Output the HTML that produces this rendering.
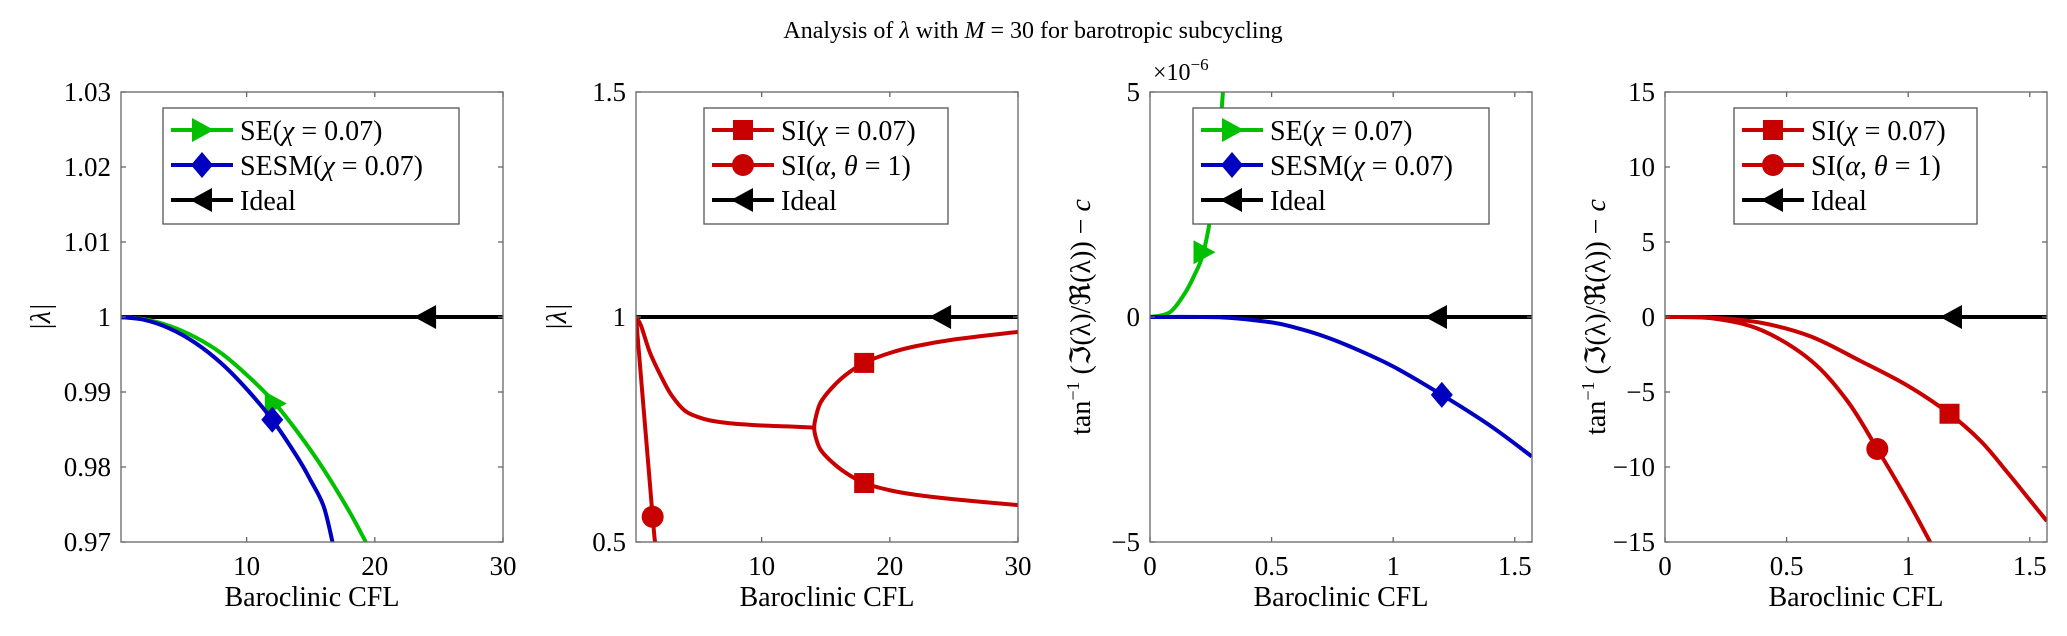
<!DOCTYPE html>
<html><head><meta charset="utf-8"><style>
body{margin:0;background:#fff}
svg{display:block}
text{font-family:"Liberation Serif","DejaVu Serif",serif;fill:#000}
</style></head><body>
<svg id="fig" width="2067" height="636" viewBox="0 0 2067 636" xmlns="http://www.w3.org/2000/svg">
<text x="1033" y="38" font-size="24" text-anchor="middle">Analysis of <tspan font-style="italic">λ</tspan> with <tspan font-style="italic">M</tspan> = 30 for barotropic subcycling</text>
</svg>
<script>
// ---- data ----
const p1SEx=[0,2,4,6,8,10,12,14,16,18,19.3];
const p1SEy=[1,0.9997,0.9988,0.9973,0.9952,0.9923,0.9889,0.9846,0.9797,0.9741,0.970];
const p1SESMx=[0,2,4,6,8,10,12,14,15,16,16.7];
const p1SESMy=[1,0.99962,0.99846,0.99654,0.99386,0.9904,0.9863,0.9812,0.9782,0.9748,0.970];
const p2SIax=[0.2,0.6,1.3,2.3,3,4,5,6,7.5,10,12,13.5,14.1];
const p2SIay=[1.0,0.98,0.92,0.86,0.825,0.792,0.778,0.77,0.764,0.759,0.757,0.755,0.754];
const p2SIbx=[30,25,22,20,18,16.5,15.4,14.6,14.25,14.1,14.25,14.6,15.4,16.5,18,20,22,25,30];
const p2SIby=[0.582,0.595,0.605,0.615,0.631,0.655,0.68,0.705,0.73,0.754,0.78,0.81,0.84,0.87,0.898,0.92,0.935,0.95,0.967];
const p2Cx=[0.2,1.5,1.7];
const p2Cy=[1.0,0.556,0.5];
const p3SEx=[0,0.08,0.14,0.18,0.22,0.26,0.28,0.30,0.31];
const p3SEy=[0,0.1,0.5,0.9,1.44,2.6,3.6,5,5.6];
const p3SESMx=[0,0.3,0.5,0.6,0.7,0.82,1.0,1.2,1.4,1.57];
const p3SESMy=[0,-0.01,-0.12,-0.24,-0.4,-0.65,-1.1,-1.73,-2.42,-3.1];
const p4Sx=[0,0.2,0.4,0.6,0.8,1.0,1.17,1.3,1.41,1.5,1.57];
const p4Sy=[0,-0.05,-0.4,-1.3,-2.9,-4.6,-6.45,-8.3,-10.4,-12.2,-13.6];
const p4Cx=[0,0.2,0.4,0.6,0.75,0.873,1.0,1.09,1.12];
const p4Cy=[0,-0.1,-0.9,-2.9,-5.6,-8.8,-12.3,-15,-16];
const p1YTicks=[0.97,0.98,0.99,1,1.01,1.02,1.03];
const p1YLabels=["0.97","0.98","0.99","1","1.01","1.02","1.03"];
const p2YTicks=[0.5,1,1.5];
const p2YLabels=["0.5","1","1.5"];
const p3YTicks=[-5,0,5];
const p3YLabels=["−5","0","5"];
const p4YTicks=[-15,-10,-5,0,5,10,15];
const p4YLabels=["−15","−10","−5","0","5","10","15"];
const cflTicks=[10,20,30];
const cflLabels=["10","20","30"];
const radTicks=[0,0.5,1,1.5];
const radLabels=["0","0.5","1","1.5"];
const idealMarkCFL=24, idealMarkRad=1.18;
const markSE1=12.2, markSESM1=12, markSI2=18, markC2=1.5, markSE3=0.22, markSESM3=1.2, markS4=1.17, markC4=0.873;

const NS="http://www.w3.org/2000/svg";
const svg=document.getElementById('fig');
const GREEN="#00c000",BLUE="#0000c0",RED="#c80000";
function mk(tag,attrs,parent){const e=document.createElementNS(NS,tag);for(const k in attrs)e.setAttribute(k,attrs[k]);(parent||svg).appendChild(e);return e;}
function interp(xs,ys,x){for(let i=0;i<xs.length-1;i++){if((x>=xs[i]&&x<=xs[i+1])||(x<=xs[i]&&x>=xs[i+1])){const t=(x-xs[i])/((xs[i+1]-xs[i])||1);return ys[i]+t*(ys[i+1]-ys[i]);}}return ys[ys.length-1];}
function pathD(pts){let d="M"+pts[0][0]+","+pts[0][1];for(let i=0;i<pts.length-1;i++){const p0=pts[i-1]||pts[i],p1=pts[i],p2=pts[i+1],p3=pts[i+2]||p2;const c1=[p1[0]+(p2[0]-p0[0])/6,p1[1]+(p2[1]-p0[1])/6],c2=[p2[0]-(p3[0]-p1[0])/6,p2[1]-(p3[1]-p1[1])/6];d+=" C"+c1+" "+c2+" "+p2;}return d;}
function marker(g,type,cx,cy,color){
  let e;
  if(type==='tri-r')e=mk('polygon',{points:`${cx+12},${cy} ${cx-10},${cy-12} ${cx-10},${cy+12}`,fill:color},g);
  else if(type==='tri-l')e=mk('polygon',{points:`${cx-12},${cy} ${cx+10},${cy-12} ${cx+10},${cy+12}`,fill:color},g);
  else if(type==='diamond')e=mk('polygon',{points:`${cx},${cy-13} ${cx+11},${cy} ${cx},${cy+13} ${cx-11},${cy}`,fill:color},g);
  else if(type==='square')e=mk('rect',{x:cx-10,y:cy-10,width:20,height:20,fill:color},g);
  else e=mk('circle',{cx:cx,cy:cy,r:11,fill:color},g);
  return e;
}
let clipId=0;
function panel(opt){
  const L=opt.left,R=L+382,T=92,B=542;
  const sx=v=>L+(v-opt.x0)/(opt.x1-opt.x0)*(R-L);
  const sy=v=>B-(v-opt.y0)/(opt.y1-opt.y0)*(B-T);
  const g=mk('g',{});
  
  
  const cid='clip'+(clipId++);
  const cp=mk('clipPath',{id:cid},g);mk('rect',{x:L,y:T,width:R-L,height:B-T},cp);
  const plot=mk('g',{'clip-path':`url(#${cid})`},g);
  
  
  const il=mk('line',{x1:L,y1:sy(opt.ideal),x2:R,y2:sy(opt.ideal),stroke:'#000','stroke-width':4},plot);
  
  
  opt.series.forEach(s=>{
    s.segs.forEach(seg=>{
      const pts=seg[0].map((x,i)=>[+sx(x).toFixed(2),+sy(seg[1][i]).toFixed(2)]);
      const p=mk('path',{d:pathD(pts),fill:'none',stroke:s.color,'stroke-width':4,'stroke-linejoin':'round'},plot);
      
      
    });
    s.marks.forEach(m=>{
      const me=marker(plot,s.marker,sx(m[0]),sy(m[1]),s.color);
      
      
    });
  });
  const im=marker(plot,'tri-l',sx(opt.idealMark),sy(opt.ideal),'#000');
  
  
  const box=mk('rect',{x:L,y:T,width:R-L,height:B-T,fill:'none',stroke:'#666','stroke-width':1.3},g);
  
  
  opt.xt.forEach((v,i)=>{const x=sx(v);
    mk('line',{x1:x,y1:B,x2:x,y2:B-5,stroke:'#666','stroke-width':1.3},g);
    mk('line',{x1:x,y1:T,x2:x,y2:T+5,stroke:'#666','stroke-width':1.3},g);
    const t=mk('text',{x:x,y:B+33,'font-size':27,'text-anchor':'middle'},g);t.textContent=opt.xl[i];
    
    
  });
  opt.yt.forEach((v,i)=>{const y=sy(v);
    mk('line',{x1:L,y1:y,x2:L+5,y2:y,stroke:'#666','stroke-width':1.3},g);
    mk('line',{x1:R,y1:y,x2:R-5,y2:y,stroke:'#666','stroke-width':1.3},g);
    const t=mk('text',{x:L-10,y:y+9,'font-size':27,'text-anchor':'end'},g);t.textContent=opt.yl[i];
    
    
  });
  const xt=mk('text',{x:(L+R)/2,y:606,'font-size':28,'text-anchor':'middle'},g);xt.textContent='Baroclinic CFL';
  
  
  const yt=mk('text',{x:0,y:0,'font-size':28,'text-anchor':'middle',transform:`translate(${opt.ylx},317) rotate(-90)`},g);
  
  
  if(opt.ytitle==='abs'){yt.textContent='|λ|';yt.setAttribute('font-style','italic');}
  else{yt.innerHTML='tan<tspan font-size="18" dy="-11">−1</tspan><tspan dy="11"> (ℑ(λ)/ℜ(λ)) − </tspan><tspan font-style="italic">c</tspan>';}
  if(opt.exp){const e=mk('text',{x:L+3,y:80,'font-size':24},g);e.innerHTML='×10<tspan font-size="17" dy="-10">−6</tspan>';
    
    }
  const lg=mk('g',{},g);
  
  
  const lx=opt.legX;
  mk('rect',{x:lx,y:108,width:opt.legW,height:116,fill:'#fff',stroke:'#555','stroke-width':1.3},lg);
  opt.legend.forEach((it,i)=>{const y=130+i*35;
    const row=mk('g',{},lg);
    
    
    mk('line',{x1:lx+8,y1:y,x2:lx+70,y2:y,stroke:it.color,'stroke-width':4},row);
    marker(row,it.marker,lx+39,y,it.color);
    const t=mk('text',{x:lx+77,y:y+10,'font-size':28},row);t.innerHTML=it.label;
  });
}
const chi='(<tspan font-style="italic">χ</tspan> = 0.07)';
const leg1=[{color:GREEN,marker:'tri-r',label:'SE'+chi},{color:BLUE,marker:'diamond',label:'SESM'+chi},{color:'#000',marker:'tri-l',label:'Ideal'}];
const leg2=[{color:RED,marker:'square',label:'SI'+chi},{color:RED,marker:'circle',label:'SI(<tspan font-style="italic">α, θ</tspan> = 1)'},{color:'#000',marker:'tri-l',label:'Ideal'}];
panel({name:'panel-magnitude-se',left:121,x0:0.2,x1:30,y0:0.97,y1:1.03,ideal:1,idealMark:idealMarkCFL,xt:cflTicks,xl:cflLabels,yt:p1YTicks,yl:p1YLabels,ylx:50,ytitle:'abs',legX:163,legW:296,legend:leg1,
 series:[{name:'se',color:GREEN,marker:'tri-r',segs:[[p1SEx,p1SEy]],marks:[[markSE1,interp(p1SEx,p1SEy,markSE1)]]},
         {name:'sesm',color:BLUE,marker:'diamond',segs:[[p1SESMx,p1SESMy]],marks:[[markSESM1,interp(p1SESMx,p1SESMy,markSESM1)]]}]});
panel({name:'panel-magnitude-si',left:636,x0:0.2,x1:30,y0:0.5,y1:1.5,ideal:1,idealMark:idealMarkCFL,xt:cflTicks,xl:cflLabels,yt:p2YTicks,yl:p2YLabels,ylx:566,ytitle:'abs',legX:704,legW:244,legend:leg2,
 series:[{name:'si-chi',color:RED,marker:'square',segs:[[p2SIax,p2SIay],[p2SIbx,p2SIby]],marks:[[markSI2,interp(p2SIbx.slice(0,10),p2SIby.slice(0,10),markSI2)],[markSI2,interp(p2SIbx.slice(9),p2SIby.slice(9),markSI2)]]},
         {name:'si-alpha',color:RED,marker:'circle',segs:[[p2Cx,p2Cy]],marks:[[markC2,interp(p2Cx,p2Cy,markC2)]]}]});
panel({name:'panel-phase-se',left:1150,x0:0,x1:1.5708,y0:-5,y1:5,ideal:0,idealMark:idealMarkRad,xt:radTicks,xl:radLabels,yt:p3YTicks,yl:p3YLabels,ylx:1090,ytitle:'phase',exp:true,legX:1193,legW:296,legend:leg1,
 series:[{name:'se',color:GREEN,marker:'tri-r',segs:[[p3SEx,p3SEy]],marks:[[markSE3,interp(p3SEx,p3SEy,markSE3)]]},
         {name:'sesm',color:BLUE,marker:'diamond',segs:[[p3SESMx,p3SESMy]],marks:[[markSESM3,interp(p3SESMx,p3SESMy,markSESM3)]]}]});
panel({name:'panel-phase-si',left:1665,x0:0,x1:1.5708,y0:-15,y1:15,ideal:0,idealMark:idealMarkRad,xt:radTicks,xl:radLabels,yt:p4YTicks,yl:p4YLabels,ylx:1605,ytitle:'phase',legX:1734,legW:243,legend:leg2,
 series:[{name:'si-chi',color:RED,marker:'square',segs:[[p4Sx,p4Sy]],marks:[[markS4,interp(p4Sx,p4Sy,markS4)]]},
         {name:'si-alpha',color:RED,marker:'circle',segs:[[p4Cx,p4Cy]],marks:[[markC4,interp(p4Cx,p4Cy,markC4)]]}]});
</script>
</body></html>
